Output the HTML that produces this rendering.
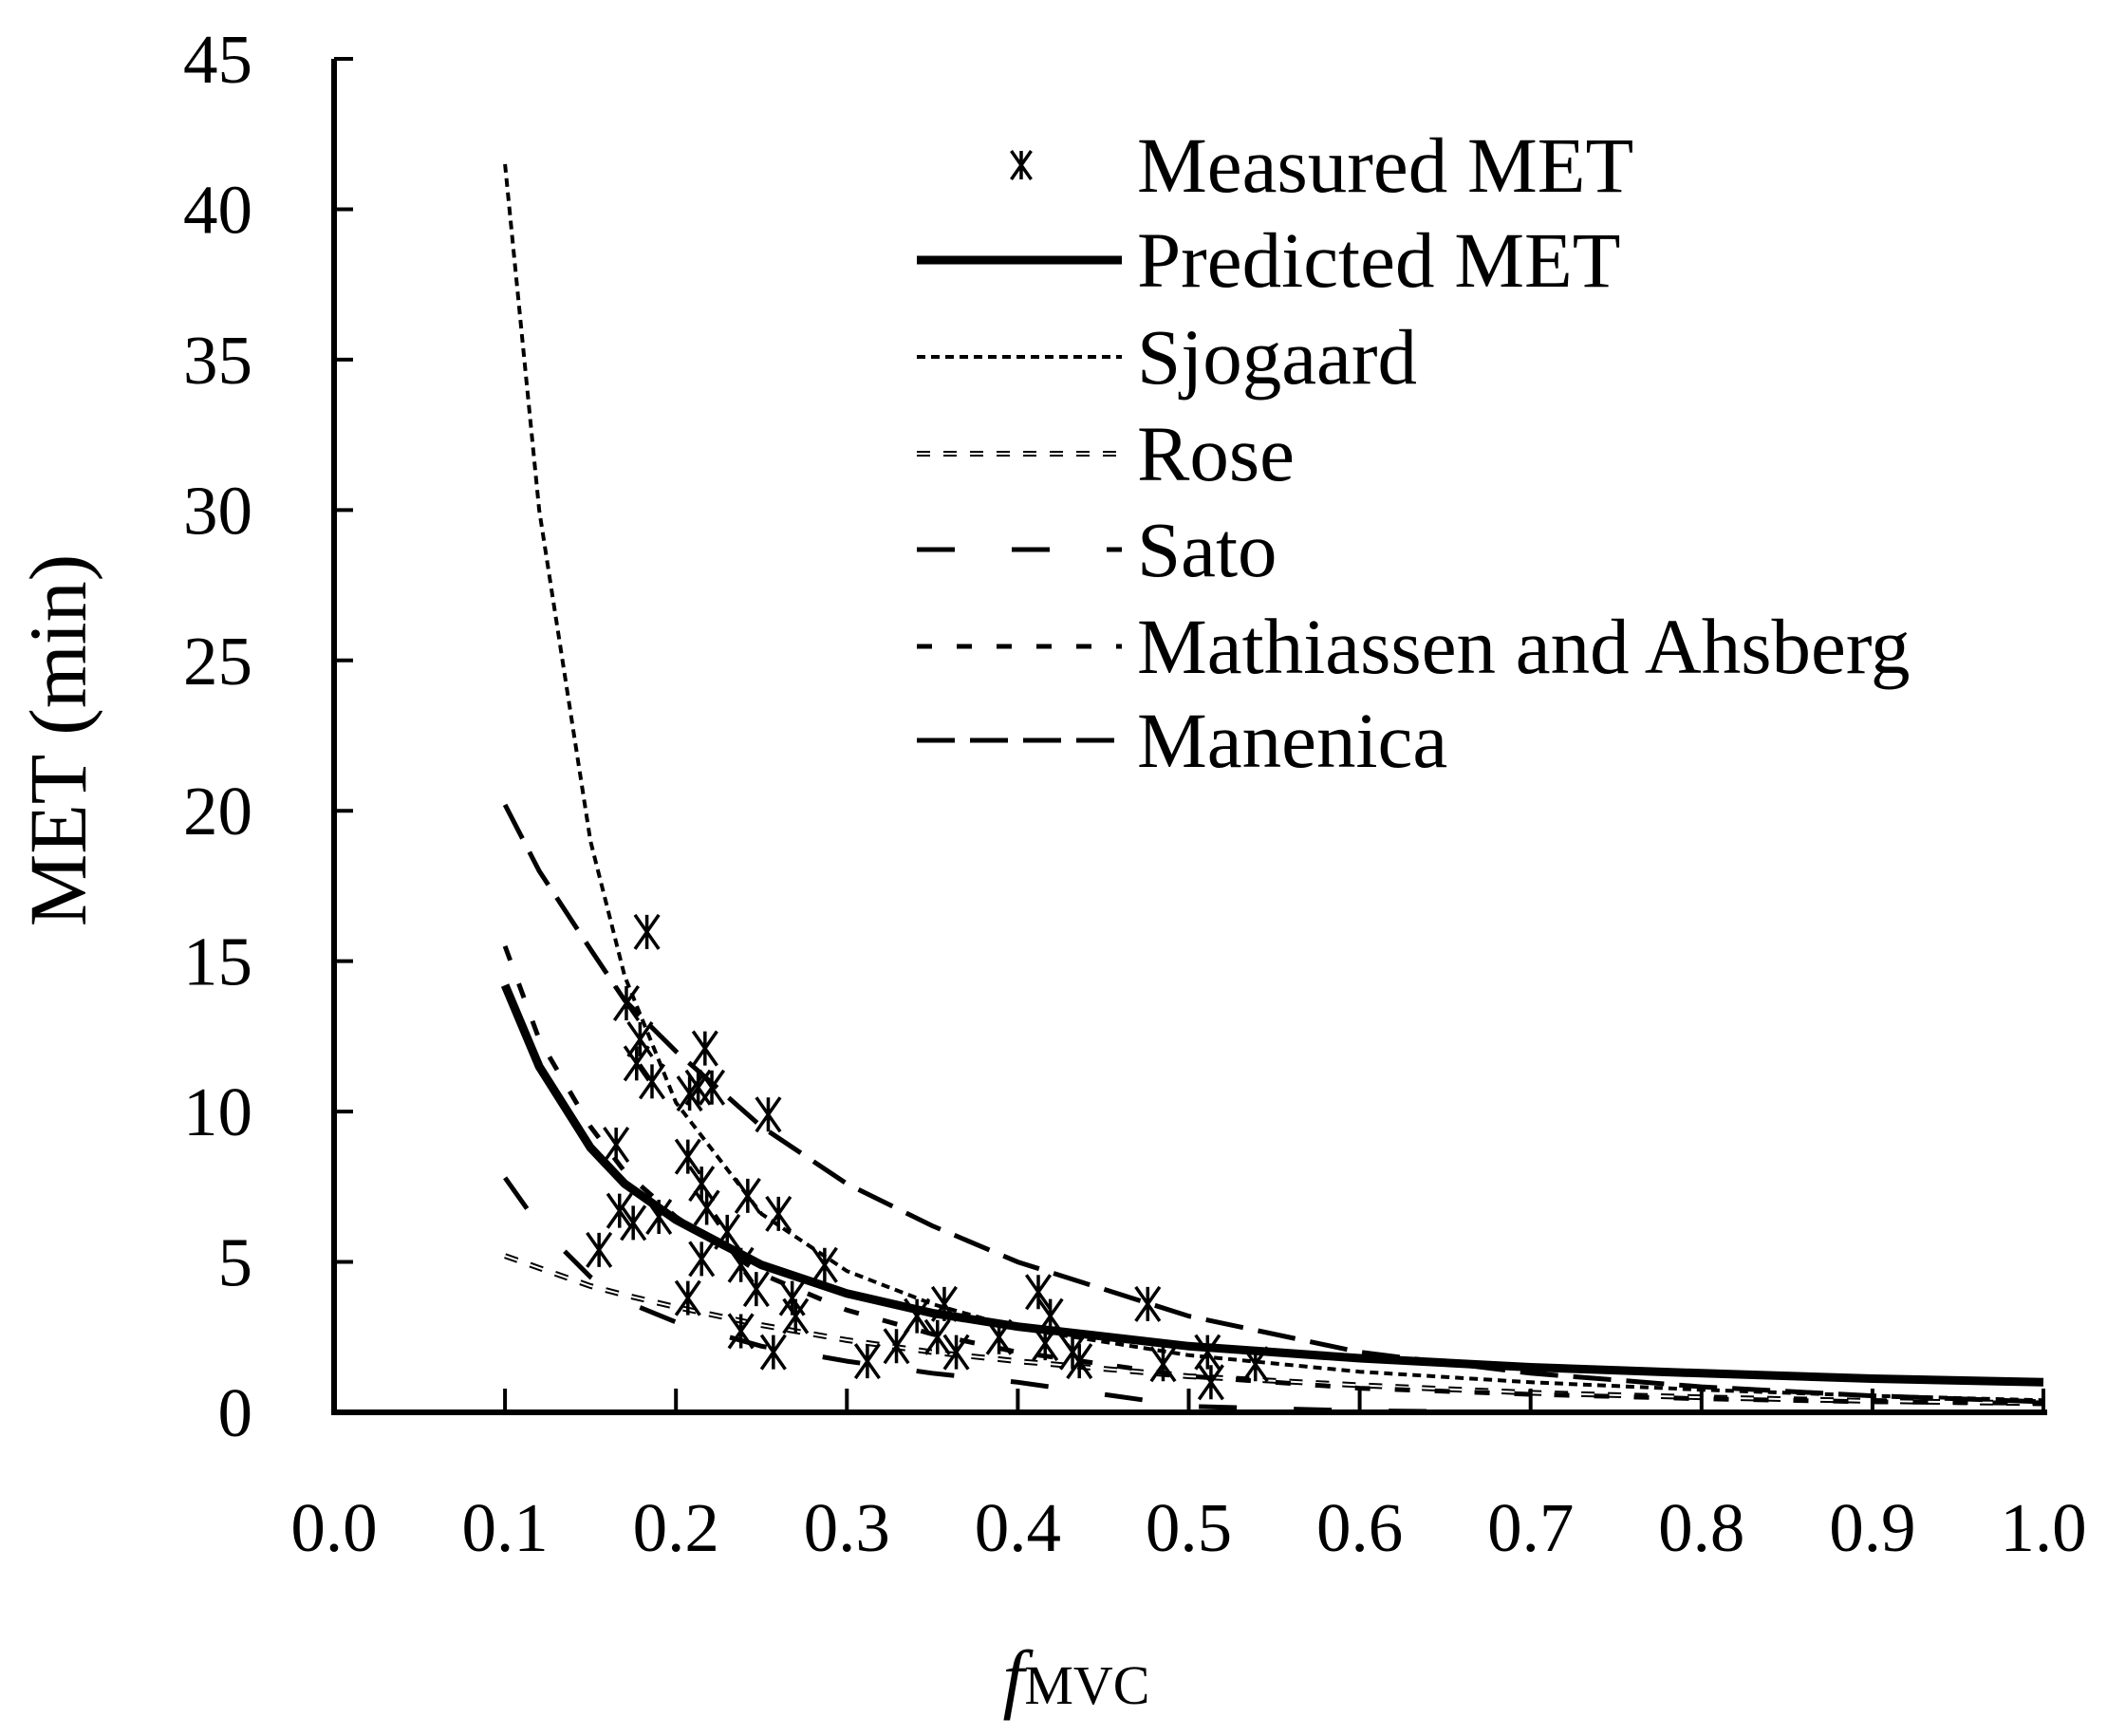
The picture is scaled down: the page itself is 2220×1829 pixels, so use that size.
<!DOCTYPE html>
<html><head><meta charset="utf-8"><style>
html,body{margin:0;padding:0;background:#fff}
svg text{font-family:"Liberation Serif",serif;fill:#000}
</style></head><body>
<svg id="chart" width="2220" height="1824" viewBox="0 0 2220 1824" xmlns="http://www.w3.org/2000/svg">
<g id="plot"></g>
<g id="axes"></g>
<g id="legend"></g>
<text x="0" y="0" font-size="86" text-anchor="middle" transform="translate(90,780) rotate(-90)">MET (min)</text>
<text x="1134" y="1795" font-size="82" text-anchor="middle"><tspan font-style="italic">f</tspan><tspan font-size="58">MVC</tspan></text>
</svg>
<script>
const xTicks=[0,0.1,0.2,0.3,0.4,0.5,0.6,0.7,0.8,0.9,1.0];
const xTickLabels=["0.0","0.1","0.2","0.3","0.4","0.5","0.6","0.7","0.8","0.9","1.0"];
const yTicks=[0,5,10,15,20,25,30,35,40,45];
const yTickLabels=["0","5","10","15","20","25","30","35","40","45"];
const measuredX=[0.183,0.171,0.179,0.177,0.186,0.217,0.208,0.213,0.221,0.254,0.165,0.207,0.215,0.218,0.242,0.26,0.167,0.175,0.155,0.19,0.23,0.215,0.207,0.238,0.247,0.287,0.268,0.27,0.238,0.257,0.312,0.329,0.341,0.357,0.353,0.364,0.389,0.412,0.419,0.416,0.432,0.436,0.476,0.485,0.511,0.513,0.539];
const measuredY=[15.97,13.6,12.4,11.6,11.0,12.1,10.6,10.8,10.8,9.9,8.9,8.5,7.6,6.8,7.2,6.6,6.7,6.3,5.4,6.5,6.0,5.1,3.8,4.9,4.1,4.9,3.8,3.2,2.7,2.0,1.7,2.2,3.2,3.6,2.5,2.0,2.5,4.0,3.2,2.3,2.0,1.7,3.6,1.6,2.0,1.0,1.6];
const curveF=[0.1,0.12,0.15,0.17,0.2,0.25,0.3,0.35,0.4,0.5,0.6,0.7,0.8,0.9,1.0];
const predictedMET=[14.2,11.5,8.8,7.6,6.4,4.9,3.95,3.3,2.85,2.2,1.8,1.5,1.3,1.12,1.0];
const sjogaardMET=[41.5,30,19,14.5,10.3,6.6,4.7,3.6,2.8,1.9,1.35,1.0,0.75,0.55,0.4];
const roseMET=[5.2,4.8,4.2,3.9,3.5,2.9,2.4,2.0,1.7,1.2,0.9,0.65,0.5,0.38,0.3];
const satoMET=[7.8,6.2,4.5,3.7,3.0,2.2,1.7,1.3,1.0,0.2,0.05,0,0,0,0];
const mathiassenMET=[15.5,12.4,9.5,8.0,6.5,4.6,3.4,2.6,2.0,1.2,0.8,0.6,0.45,0.35,0.3];
const manenicaMET=[20.2,18.0,15.4,13.7,12.0,9.5,7.6,6.2,5.0,3.2,2.0,1.3,0.85,0.55,0.35];

const NS="http://www.w3.org/2000/svg";
const X0=352,X1=2153,Y0=1488,Y45=62;
const sx=v=>X0+(X1-X0)*v;
const sy=v=>Y0-(Y0-Y45)*v/45;
function mk(tag,attrs,parent){const e=document.createElementNS(NS,tag);for(const k in attrs)e.setAttribute(k,attrs[k]);parent.appendChild(e);return e;}
const plot=document.getElementById('plot'),axes=document.getElementById('axes'),legend=document.getElementById('legend');

const styles={
 predicted:{w:9,dash:null},
 sjogaard:{w:4,dash:"9 6"},
 rose:{w:6,dash:"14 14",hollow:true},
 sato:{w:5,dash:"40 60"},
 mathiassen:{w:5,dash:"16 26"},
 manenica:{w:5,dash:"40 16"}
};
function drawCurve(name,vals,st){
 const d=curveF.map((f,i)=>(i?'L':'M')+sx(f).toFixed(1)+','+sy(vals[i]).toFixed(1)).join(' ');
 const p=mk('path',{d:d,fill:'none',stroke:'#000','stroke-width':st.w},plot);
 if(st.dash)p.setAttribute('stroke-dasharray',st.dash);
 
 
 if(st.hollow){const q=mk('path',{d:d,fill:'none',stroke:'#fff','stroke-width':2,'stroke-dasharray':st.dash},plot);
  
  }
}
drawCurve('sjogaard',sjogaardMET,styles.sjogaard);
drawCurve('rose',roseMET,styles.rose);
drawCurve('sato',satoMET,styles.sato);
drawCurve('mathiassen',mathiassenMET,styles.mathiassen);
drawCurve('manenica',manenicaMET,styles.manenica);
drawCurve('predicted',predictedMET,styles.predicted);

function star(cx,cy,r,parent){
 const d=`M${cx-r*0.7},${cy-r}L${cx+r*0.7},${cy+r}M${cx+r*0.7},${cy-r}L${cx-r*0.7},${cy+r}M${cx},${cy-r}L${cx},${cy+r}`;
 return mk('path',{d:d,stroke:'#000','stroke-width':3.5,fill:'none'},parent);
}
measuredX.forEach((x,i)=>{
 const s=star(sx(x),sy(measuredY[i]),18,plot);
 
 
});

const ya=mk('line',{x1:X0,y1:Y45,x2:X0,y2:Y0+3,stroke:'#000','stroke-width':6},axes);


const xa=mk('line',{x1:X0-3,y1:Y0,x2:X1+4,y2:Y0,stroke:'#000','stroke-width':6},axes);


xTicks.forEach((v,i)=>{
 const t=mk('line',{x1:sx(v),y1:Y0,x2:sx(v),y2:Y0-25,stroke:'#000','stroke-width':4},axes);
 
 
 const l=mk('text',{x:sx(v),y:1634,'font-size':73,'text-anchor':'middle'},axes);
 l.textContent=xTickLabels[i];
 
 
});
yTicks.forEach((v,i)=>{
 const t=mk('line',{x1:X0,y1:sy(v),x2:X0+20,y2:sy(v),stroke:'#000','stroke-width':4},axes);
 
 
 const l=mk('text',{x:266,y:sy(v)+25,'font-size':73,'text-anchor':'end'},axes);
 l.textContent=yTickLabels[i];
 
 
});

const legendLabels=["Measured MET","Predicted MET","Sjogaard","Rose","Sato","Mathiassen and Ahsberg","Manenica"];
const legendKeys=["measured","predicted","sjogaard","rose","sato","mathiassen","manenica"];
const rowY=[174,274,376,478,579,681,780];
legendKeys.forEach((k,i)=>{
 const g=mk('g',{},legend);
 
 
 const y=rowY[i];
 if(k==='measured'){star(1076,y,15,g);}
 else{const st=styles[k];
  const p=mk('line',{x1:966,y1:y,x2:1182,y2:y,stroke:'#000','stroke-width':st.w},g);
  if(st.dash)p.setAttribute('stroke-dasharray',st.dash);
  if(st.hollow)mk('line',{x1:966,y1:y,x2:1182,y2:y,stroke:'#fff','stroke-width':2,'stroke-dasharray':st.dash},g);
 }
 const t=mk('text',{x:1198,y:y+28,'font-size':83},g);
 t.textContent=legendLabels[i];
});
</script>
</body></html>
